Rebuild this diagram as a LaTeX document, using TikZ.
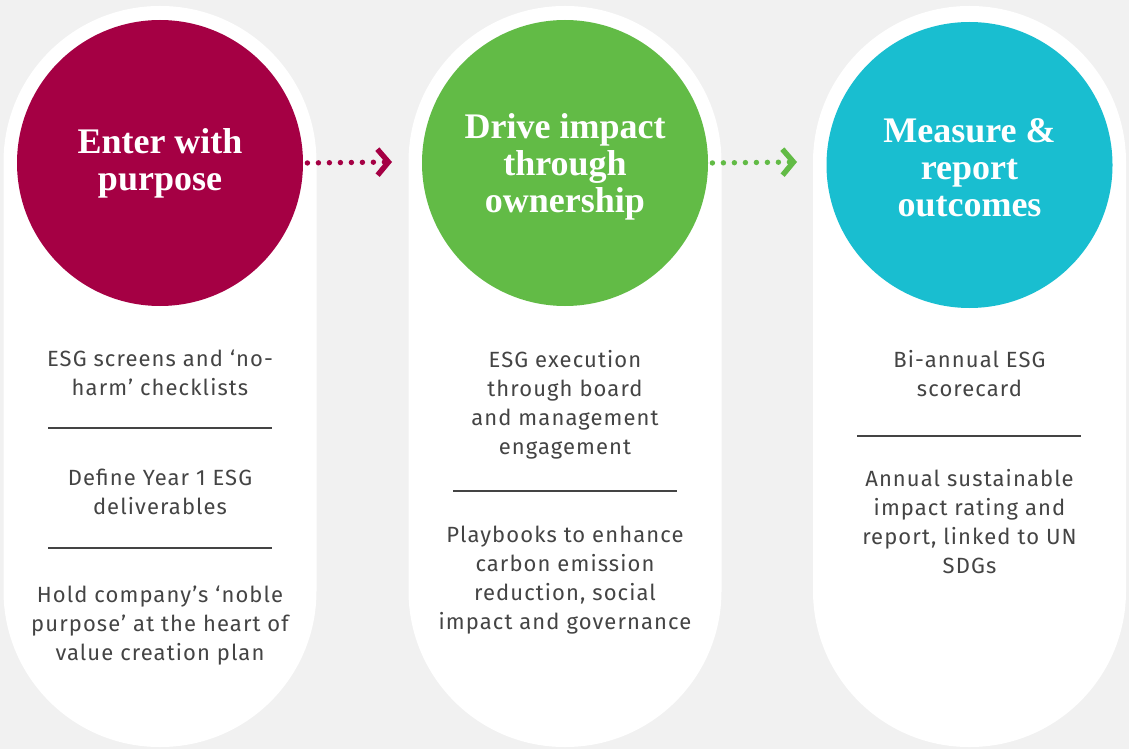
\documentclass[tikz,border=0pt]{standalone}
\usepackage{fontspec}
\setmainfont{Fira Sans}[LetterSpace=5]
\newfontfamily\headfont{Liberation Serif}
\usepackage{tikz}
\usetikzlibrary{arrows.meta}
\definecolor{bgGray}{HTML}{F1F1F1}
\definecolor{wine}{HTML}{A50044}
\definecolor{leaf}{HTML}{62BB46}
\definecolor{teal}{HTML}{19BED0}
\definecolor{textGray}{HTML}{444444}
\tikzstyle{pill} = [rectangle, rounded corners=78pt, minimum width=156.5pt, minimum height=370.5pt, fill=white, inner sep=0pt]
\tikzstyle{stage} = [circle, minimum size=143pt, inner sep=0pt, text=white, align=center, font=\headfont\bfseries\fontsize{18pt}{18.5pt}\selectfont]
\tikzstyle{info} = [align=center, text=textGray, font=\fontsize{11pt}{14.5pt}\selectfont]
\tikzstyle{rule} = [draw=textGray, line width=0.55pt]
\tikzstyle{flow} = [line width=2.7pt, line cap=round, dash pattern=on 0pt off 5.5pt, shorten <=2pt, -{Straight Barb[length=5.5pt, width=13pt, line width=2.7pt]}]

\begin{document}
\begin{tikzpicture}[x=0.5pt, y=-0.5pt]
				\fill[bgGray] (0,0) rectangle (1129,749);
				\useasboundingbox (0,0) rectangle (1129,749);
				\node (p1) [pill] at (160,376.5) {};
				\node (p2) [pill] at (565,376.5) {};
				\node (p3) [pill] at (969.5,376.5) {};
				\node (c1) [stage, fill=wine] at (160,163) {Enter with\\purpose};
				\node (c2) [stage, fill=leaf] at (565,163) {\rule{0pt}{16.5pt}Drive impact\\through\\ownership};
				\node (c3) [stage, fill=teal] at (969.5,165) {\rule{0pt}{14.5pt}Measure \&\\report\\outcomes};
				\coordinate (a1) at (392,162);
				\coordinate (a2) at (797,162);
				\draw [flow, wine] (c1.east) -- (a1);
				\draw [flow, leaf] (c2.east) -- (a2);
				% first column
				\node (t11) [info] at (160,372.5) {ESG screens and ‘no-\\harm’ checklists};
				\draw [rule] (48,428) -- (272,428);
				\node (t12) [info] at (160,492) {Define Year 1 ESG\\deliverables};
				\draw [rule] (48,548) -- (272,548);
				\node (t13) [info] at (160,625.5) {Hold company’s ‘noble\\purpose’ at the heart of\\value creation plan};
				% second column
				\node (t21) [info] at (565,404.5) {ESG execution\\through board\\and management\\engagement};
				\draw [rule] (453,491) -- (677,491);
				\node (t22) [info] at (565,580.5) {Playbooks to enhance\\carbon emission\\reduction, social\\impact and governance};
				% third column
				\node (t31) [info] at (969.5,374) {Bi-annual ESG\\scorecard};
				\draw [rule] (857,436) -- (1081,436);
				\node (t32) [info] at (969.5,522) {Annual sustainable\\impact rating and\\report, linked to UN\\SDGs};
			\end{tikzpicture}
\end{document}
